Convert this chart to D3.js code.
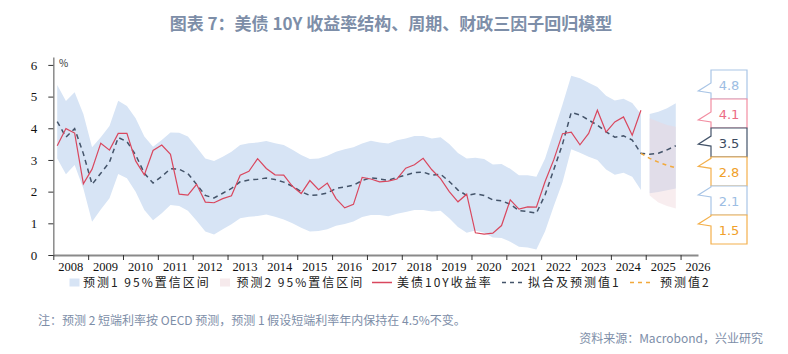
<!DOCTYPE html>
<html>
<head>
<meta charset="utf-8">
<script src="https://cdn.jsdelivr.net/npm/d3@7"></script>
<style>
  body { margin: 0; background: #fff; }
  svg { display: block; font-family: "Noto Sans CJK SC", "Noto Sans", sans-serif; }
</style>
</head>
<body>
<div id="chart"></div>
<script>
// quarterly data, 2008Q1 .. 2024Q4
const yearTicks = [2008, 2009, 2010, 2011, 2012, 2013, 2014, 2015, 2016, 2017,
                   2018, 2019, 2020, 2021, 2022, 2023, 2024, 2025, 2026];
const yTicks = [0, 1, 2, 3, 4, 5, 6];

// 美债10Y收益率
const actual = [3.45, 3.99, 3.85, 2.25, 2.71, 3.53, 3.31, 3.84, 3.84, 2.97, 2.53, 3.30,
                3.47, 3.18, 1.92, 1.89, 2.23, 1.67, 1.65, 1.78, 1.87, 2.52, 2.64, 3.04,
                2.73, 2.53, 2.52, 2.17, 1.94, 2.35, 2.06, 2.27, 1.78, 1.49, 1.60, 2.45,
                2.40, 2.31, 2.33, 2.40, 2.74, 2.85, 3.05, 2.69, 2.41, 2.00, 1.68, 1.92,
                0.70, 0.66, 0.69, 0.93, 1.74, 1.45, 1.52, 1.51, 2.32, 3.01, 3.83, 3.88,
                3.48, 3.84, 4.57, 3.88, 4.20, 4.36, 3.78, 4.57];

// 拟合值1
const fit1 = [4.21, 3.72, 3.99, 3.20, 2.23, 2.58, 2.93, 3.71, 3.58, 3.16, 2.58, 2.27,
              2.48, 2.72, 2.71, 2.57, 2.23, 1.88, 1.80, 1.95, 2.10, 2.31, 2.37, 2.39,
              2.43, 2.38, 2.30, 2.17, 2.00, 1.88, 1.90, 1.96, 2.10, 2.15, 2.20, 2.35,
              2.44, 2.40, 2.36, 2.45, 2.52, 2.60, 2.62, 2.52, 2.55, 2.32, 2.05, 1.88,
              1.93, 1.88, 1.74, 1.71, 1.60, 1.40, 1.37, 1.32, 1.90, 2.70, 3.50, 4.50,
              4.42, 4.26, 4.10, 3.89, 3.72, 3.76, 3.63, 3.21];

// 预测1 95%置信区间 (historical part)
const band1Upper = [5.37, 4.86, 5.14, 4.45, 3.40, 3.72, 4.07, 4.87, 4.70, 4.32, 3.74, 3.42,
                    3.63, 3.87, 3.86, 3.74, 3.40, 3.05, 2.97, 3.10, 3.26, 3.47, 3.53, 3.55,
                    3.60, 3.53, 3.47, 3.32, 3.16, 3.03, 3.05, 3.13, 3.26, 3.34, 3.40, 3.52,
                    3.61, 3.55, 3.52, 3.62, 3.68, 3.76, 3.76, 3.68, 3.72, 3.50, 3.22, 3.05,
                    3.07, 3.03, 2.86, 2.87, 2.72, 2.52, 2.52, 2.47, 3.05, 3.90, 4.75, 5.66,
                    5.58, 5.44, 5.30, 5.03, 4.88, 4.93, 4.80, 4.45];
const band1Lower = [3.05, 2.55, 2.84, 2.10, 1.05, 1.44, 1.79, 2.56, 2.42, 2.00, 1.42, 1.10,
                    1.32, 1.58, 1.55, 1.40, 1.08, 0.74, 0.65, 0.81, 0.97, 1.16, 1.21, 1.23,
                    1.28, 1.21, 1.12, 1.00, 0.86, 0.74, 0.76, 0.81, 0.92, 0.98, 1.06, 1.20,
                    1.26, 1.26, 1.22, 1.30, 1.36, 1.42, 1.42, 1.37, 1.40, 1.16, 0.88, 0.70,
                    0.77, 0.70, 0.55, 0.54, 0.42, 0.26, 0.24, 0.17, 0.75, 1.55, 2.30, 3.34,
                    3.23, 3.10, 3.00, 2.70, 2.53, 2.60, 2.47, 2.05];

// forecasts: 2024Q4 .. 2025Q4
const fcst1 = [3.21, 3.18, 3.21, 3.32, 3.45];
const fcst2 = [3.21, 3.05, 2.93, 2.83, 2.75];
// forecast bands: 2025Q1 .. 2025Q4
const fcst1Upper = [4.45, 4.52, 4.63, 4.79];
const fcst1Lower = [1.95, 1.99, 2.04, 2.10];
const fcst2Upper = [4.32, 4.21, 4.10, 4.05];
const fcst2Lower = [1.88, 1.66, 1.55, 1.47];

const calloutValues = [4.8, 4.1, 3.5, 2.8, 2.1, 1.5];
const calloutKinds = ["band1", "band2", "fcst1", "fcst2", "band1", "fcst2"];

const legendLabels = ["预测1 95%置信区间", "预测2 95%置信区间", "美债10Y收益率", "拟合及预测值1", "预测值2"];

// ------------------------------------------------------------------
const W = 788, H = 354;
const col = {
  band1: "#d7e4f5",
  band2: "rgba(238,212,216,0.42)",
  band2Key: "#f6eaec",
  red: "#d9475e",
  navy: "#44546a",
  orange: "#f2a93b",
  text: "#7d8ea8"
};
const calloutStyle = {
  band1: {stroke: "#a9c5e6", text: "#9cbde3"},
  band2: {stroke: "#f28ea2", text: "#ec6b84"},
  fcst1: {stroke: "#44546a", text: "#3b4a60"},
  fcst2: {stroke: "#f3b04c", text: "#f0a02a"}
};

const svg = d3.select("#chart").append("svg")
  .attr("width", W)
  .attr("height", H);

const x = d3.scaleLinear().domain([2008, 2026.5]).range([53.3, 698]);
const y = d3.scaleLinear().domain([0, 6.25]).range([255, 57]);

const qt = i => 2008 + (i + 0.45) / 4;
const lastHist = actual.length - 1;

// title
svg.append("text")
  .attr("x", 391).attr("y", 30)
  .attr("text-anchor", "middle")
  .attr("font-size", 17).attr("font-weight", "bold")
  .attr("fill", col.text)
  .text("图表 7：美债 10Y 收益率结构、周期、财政三因子回归模型");

// bands
const histArea = d3.area()
  .x((d, i) => x(qt(i)))
  .y0((d, i) => y(band1Lower[i]))
  .y1(d => y(d));
svg.append("path")
  .datum(band1Upper)
  .attr("fill", col.band1)
  .attr("d", histArea);

const fArea = (up, lo) => d3.area()
  .x((d, i) => x(qt(lastHist + 1 + i)))
  .y0((d, i) => y(lo[i]))
  .y1(d => y(d))(up);

svg.append("path").attr("fill", col.band1).attr("d", fArea(fcst1Upper, fcst1Lower));
svg.append("path").attr("fill", col.band2).attr("d", fArea(fcst2Upper, fcst2Lower));

// lines
const line = offset => d3.line()
  .x((d, i) => x(qt(offset + i)))
  .y(d => y(d));

svg.append("path")
  .datum(fit1.concat(fcst1.slice(1)))
  .attr("fill", "none")
  .attr("stroke", col.navy)
  .attr("stroke-width", 1.5)
  .attr("stroke-dasharray", "5,4")
  .attr("d", line(0));

svg.append("path")
  .datum(fcst2)
  .attr("fill", "none")
  .attr("stroke", col.orange)
  .attr("stroke-width", 1.5)
  .attr("stroke-dasharray", "4,4")
  .attr("d", line(lastHist));

svg.append("path")
  .datum(actual)
  .attr("fill", "none")
  .attr("stroke", col.red)
  .attr("stroke-width", 1.2)
  .attr("d", line(0));

// y axis
const yAxis = svg.append("g")
  .attr("transform", "translate(53.3,0)")
  .call(d3.axisLeft(y).tickValues(yTicks).tickFormat(d3.format("d"))
    .tickSize(5).tickSizeOuter(0).tickPadding(11));
yAxis.select(".domain").attr("stroke", "#8a8a8a").attr("stroke-width", 1.5);
yAxis.selectAll(".tick line").attr("stroke", "#333");
yAxis.selectAll(".tick text")
  .attr("font-family", "Liberation Serif, serif")
  .attr("font-size", 13)
  .attr("fill", "#111");

svg.append("text")
  .attr("x", 59).attr("y", 67)
  .attr("font-size", 10)
  .attr("fill", "#333")
  .text("%");

// x axis
const xAxis = svg.append("g")
  .attr("transform", "translate(0,255)")
  .call(d3.axisBottom(x).tickValues(yearTicks).tickSize(5).tickSizeOuter(0).tickFormat(""));
xAxis.select(".domain").attr("stroke", "#8a8a8a").attr("stroke-width", 2);
xAxis.selectAll(".tick line").attr("stroke", "#333");

svg.append("g").selectAll("text")
  .data(yearTicks)
  .join("text")
  .attr("x", d => x(d + 0.5))
  .attr("y", 271)
  .attr("text-anchor", "middle")
  .attr("font-family", "Liberation Serif, serif")
  .attr("font-size", 12.5)
  .attr("fill", "#111")
  .text(d => d);

// value callouts on the right
const boxL = 711, boxR = 747, boxTop = 70, boxH = 29, tipX = 698.3;
const callouts = svg.append("g");
calloutValues.forEach((v, k) => {
  const y0 = boxTop + k * boxH;
  const tipY = Math.max(y0 + 9, Math.min(y0 + 21, y(v)));
  const st = calloutStyle[calloutKinds[k]];
  callouts.append("path")
    .attr("d", `M${boxL},${y0}H${boxR}V${y0 + boxH}H${boxL}V${tipY + 2}L${tipX},${tipY}L${boxL},${tipY - 8}Z`)
    .attr("fill", "#fff")
    .attr("stroke", st.stroke)
    .attr("stroke-width", 1.2);
  callouts.append("text")
    .attr("x", 729).attr("y", y0 + boxH / 2 + 5)
    .attr("text-anchor", "middle")
    .attr("font-family", "DejaVu Sans, sans-serif")
    .attr("font-size", 13)
    .attr("fill", st.text)
    .text(v.toFixed(1));
});

// legend
const lg = svg.append("g").attr("font-size", 12).attr("fill", "#222").attr("letter-spacing", "2px");
const ly = 282.5;
const lt = ly + 4.5;
lg.append("rect").attr("x", 69.5).attr("y", ly - 4).attr("width", 10).attr("height", 8).attr("fill", col.band1);
lg.append("text").attr("x", 83).attr("y", lt).text(legendLabels[0]);
lg.append("rect").attr("x", 220).attr("y", ly - 4).attr("width", 10).attr("height", 8).attr("fill", col.band2Key);
lg.append("text").attr("x", 236.5).attr("y", lt).text(legendLabels[1]);
lg.append("line").attr("x1", 372).attr("x2", 392).attr("y1", ly).attr("y2", ly)
  .attr("stroke", col.red).attr("stroke-width", 1.5);
lg.append("text").attr("x", 397).attr("y", lt).text(legendLabels[2]);
lg.append("line").attr("x1", 502).attr("x2", 523).attr("y1", ly).attr("y2", ly)
  .attr("stroke", col.navy).attr("stroke-width", 1.5).attr("stroke-dasharray", "4,4");
lg.append("text").attr("x", 528).attr("y", lt).text(legendLabels[3]);
lg.append("line").attr("x1", 630).attr("x2", 653).attr("y1", ly).attr("y2", ly)
  .attr("stroke", col.orange).attr("stroke-width", 1.5).attr("stroke-dasharray", "4,4");
lg.append("text").attr("x", 660).attr("y", lt).text(legendLabels[4]);

// notes
svg.append("text")
  .attr("x", 38).attr("y", 325)
  .attr("font-size", 12)
  .attr("fill", col.text)
  .text("注：预测 2 短端利率按 OECD 预测，预测 1 假设短端利率年内保持在 4.5%不变。");

svg.append("text")
  .attr("x", 763).attr("y", 343)
  .attr("text-anchor", "end")
  .attr("font-size", 12)
  .attr("fill", col.text)
  .text("资料来源：Macrobond，兴业研究");
</script>
</body>
</html>
